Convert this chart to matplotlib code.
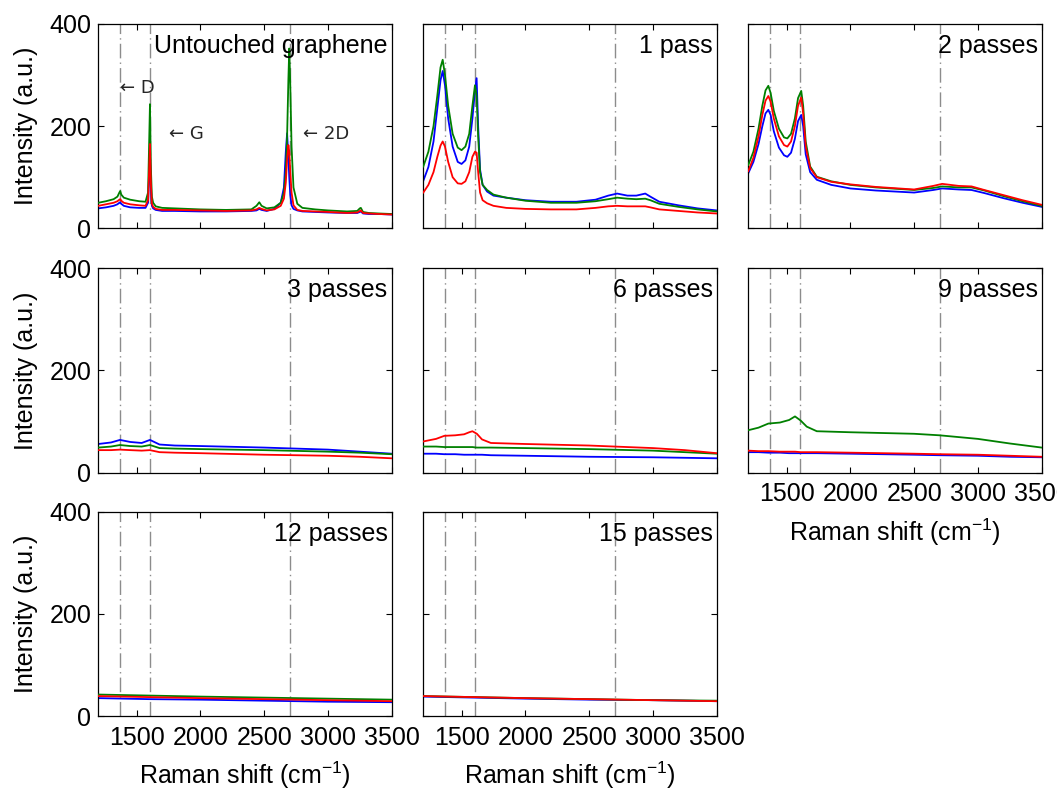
import matplotlib
matplotlib.use("Agg")
import matplotlib.pyplot as plt

plt.rcParams["font.family"] = ["Liberation Sans", "DejaVu Sans"]
plt.rcParams["mathtext.default"] = "regular"

# ---- Raman spectra (intensity in a.u. vs Raman shift in cm^-1) ----
# Untouched graphene
x_untouched = [1200, 1260, 1320, 1350, 1365, 1372, 1380, 1400, 1450, 1520, 1570, 1590, 1598, 1605,
               1612, 1620, 1630, 1650, 1700, 1800, 2000, 2200, 2400, 2440, 2462, 2480, 2520, 2580,
               2630, 2655, 2670, 2680, 2690, 2697, 2705, 2715, 2730, 2760, 2800, 2900, 3000, 3150,
               3230, 3250, 3258, 3275, 3320, 3400, 3500]
blue_untouched = [39, 41, 44, 47, 50, 51, 48, 44, 41, 40, 40, 50, 100, 150,
                  80, 44, 39, 36, 34, 34, 33, 33, 34, 35, 38, 36, 34, 38,
                  50, 80, 150, 186, 140, 100, 65, 45, 38, 35, 33, 32, 31, 30,
                  30, 32, 33, 29, 28, 28, 27]
green_untouched = [50, 53, 57, 62, 70, 73, 66, 60, 56, 53, 52, 70, 160, 243,
                   120, 62, 50, 43, 40, 39, 37, 36, 37, 44, 51, 44, 39, 41,
                   50, 70, 110, 180, 290, 352, 280, 160, 80, 48, 40, 37, 35, 33,
                   34, 39, 40, 32, 30, 29, 28]
red_untouched = [44, 47, 50, 53, 56, 57, 54, 50, 47, 45, 44, 55, 110, 165,
                 90, 48, 42, 38, 36, 36, 35, 34, 35, 37, 40, 38, 35, 37,
                 44, 58, 90, 135, 163, 150, 110, 70, 45, 36, 34, 33, 32, 30,
                 31, 34, 35, 30, 29, 28, 27]

# 1 pass
x_pass1 = [1200, 1240, 1280, 1310, 1335, 1352, 1370, 1395, 1430, 1470, 1500, 1530, 1560, 1585,
           1605, 1618, 1630, 1645, 1665, 1700, 1750, 1850, 2000, 2200, 2400, 2550, 2650, 2720,
           2800, 2870, 2940, 2980, 3050, 3200, 3350, 3500]
blue_pass1 = [93, 120, 170, 235, 290, 308, 280, 215, 160, 130, 126, 133, 160, 215,
              270, 294, 200, 115, 85, 72, 64, 60, 55, 52, 52, 56, 64, 68,
              64, 64, 68, 62, 52, 45, 39, 35]
green_pass1 = [121, 150, 200, 260, 315, 330, 300, 240, 185, 158, 153, 160, 185, 240,
               280, 260, 180, 110, 85, 75, 66, 60, 54, 50, 50, 53, 57, 60,
               58, 57, 58, 55, 48, 42, 37, 33]
red_pass1 = [70, 85, 110, 140, 162, 170, 160, 130, 100, 88, 87, 92, 110, 140,
             150, 148, 110, 70, 55, 49, 44, 40, 38, 37, 37, 40, 43, 44,
             43, 43, 43, 41, 37, 34, 31, 29]

# 2 passes
x_pass2 = [1200, 1240, 1280, 1310, 1335, 1357, 1375, 1400, 1440, 1480, 1506, 1535, 1565, 1590,
           1615, 1630, 1650, 1685, 1737, 1850, 2000, 2200, 2500, 2650, 2720, 2850, 2950, 3050,
           3200, 3350, 3500]
blue_pass2 = [108, 130, 165, 200, 225, 232, 222, 190, 158, 143, 140, 148, 175, 210,
              222, 200, 145, 110, 95, 85, 78, 74, 70, 75, 78, 76, 75, 69,
              59, 50, 42]
green_pass2 = [124, 150, 195, 240, 270, 279, 265, 230, 195, 178, 176, 185, 215, 255,
               269, 240, 170, 121, 101, 92, 85, 80, 75, 79, 82, 80, 80, 74,
               63, 53, 44]
red_pass2 = [112, 138, 180, 222, 250, 259, 248, 215, 180, 163, 160, 170, 200, 240,
             256, 225, 160, 118, 100, 91, 86, 81, 76, 83, 87, 83, 82, 75,
             65, 55, 46]

# 3 passes
x_pass3 = [1200, 1300, 1370, 1450, 1540, 1605, 1680, 1800, 2000, 2500, 3000, 3250, 3500]
blue_pass3 = [56, 59, 64, 60, 58, 64, 55, 53, 52, 49, 45, 41, 37]
green_pass3 = [49, 51, 54, 52, 51, 54, 48, 47, 46, 44, 41, 39, 36]
red_pass3 = [44, 44, 45, 44, 43, 44, 40, 39, 38, 35, 33, 31, 28]

# 6 passes
x_pass6 = [1200, 1300, 1365, 1450, 1520, 1560, 1585, 1620, 1660, 1730, 2000, 2500, 3000, 3250, 3500]
blue_pass6 = [37, 37, 36, 36, 35, 35, 35, 35, 35, 34, 33, 31, 30, 29, 28]
green_pass6 = [51, 51, 50, 50, 50, 50, 50, 49, 49, 49, 48, 46, 43, 40, 37]
red_pass6 = [61, 66, 72, 73, 75, 79, 81, 76, 65, 58, 56, 53, 48, 44, 38]

# 9 passes
x_pass9 = [1200, 1280, 1357, 1448, 1520, 1566, 1610, 1658, 1737, 2000, 2500, 2700, 3000, 3250, 3500]
blue_pass9 = [40, 40, 39, 39, 38, 38, 38, 38, 38, 37, 35, 34, 33, 31, 30]
green_pass9 = [83, 88, 96, 98, 103, 110, 102, 90, 81, 79, 76, 73, 66, 57, 49]
red_pass9 = [43, 42, 42, 41, 41, 41, 40, 40, 40, 39, 37, 36, 35, 33, 31]

# 12 passes
x_pass12 = [1200, 1600, 2000, 2500, 3000, 3500]
blue_pass12 = [35, 33, 32, 30, 28, 27]
green_pass12 = [42, 40, 38, 36, 34, 32]
red_pass12 = [39, 37, 35, 33, 31, 29]

# 15 passes
x_pass15 = [1200, 1600, 2000, 2500, 3000, 3500]
blue_pass15 = [38, 36, 34, 32, 31, 29]
green_pass15 = [39, 37, 35, 33, 31, 30]
red_pass15 = [39, 37, 35, 33, 31, 29]

panel_titles = ["Untouched graphene", "1 pass", "2 passes", "3 passes", "6 passes",
                "9 passes", "12 passes", "15 passes"]
band_positions = [1370, 1605, 2700]  # D, G, 2D
band_labels = ["\u2190 D", "\u2190 G", "\u2190 2D"]
band_label_pos = [(1370, 265), (1755, 175), (2803, 175)]
x_ticks = [1500, 2000, 2500, 3000, 3500]
y_ticks = [0, 200, 400]

spectra = [
    (x_untouched, blue_untouched, green_untouched, red_untouched),
    (x_pass1, blue_pass1, green_pass1, red_pass1),
    (x_pass2, blue_pass2, green_pass2, red_pass2),
    (x_pass3, blue_pass3, green_pass3, red_pass3),
    (x_pass6, blue_pass6, green_pass6, red_pass6),
    (x_pass9, blue_pass9, green_pass9, red_pass9),
    (x_pass12, blue_pass12, green_pass12, red_pass12),
    (x_pass15, blue_pass15, green_pass15, red_pass15),
]

W, H = 1057, 791
fig = plt.figure(figsize=(W / 100, H / 100), dpi=100)

col_left = [98.3, 423.3, 748.3]
col_width = 293.4
row_top = [24.0, 268.3, 511.7]
row_height = 204.3

FS = 18
label_text = "Raman shift (cm$^{-1}$)"
xlabel_panels = {5, 6, 7}
xticklabel_panels = {5, 6, 7}

for i, (title, (xs, yb, yg, yr)) in enumerate(zip(panel_titles, spectra)):
    r, c = divmod(i, 3)
    left = col_left[c] / W
    bottom = 1 - (row_top[r] + row_height) / H
    ax = fig.add_axes([left, bottom, col_width / W, row_height / H])

    for bx in band_positions:
        ax.axvline(bx, color="0.55", lw=1.0, linestyle=(0, (10.5, 3, 1, 3)), zorder=1)

    ax.plot(xs, yb, color=(0, 0, 1), lw=1.3, zorder=2)
    ax.plot(xs, yg, color=(0, 0.5, 0), lw=1.3, zorder=3)
    ax.plot(xs, yr, color=(1, 0, 0), lw=1.3, zorder=4)

    ax.set_xlim(1200, 3500)
    ax.set_ylim(0, 400)
    ax.set_xticks(x_ticks)
    ax.set_yticks(y_ticks)
    ax.tick_params(direction="in", top=True, right=True, length=4, width=0.8,
                   labelsize=FS, colors="black")
    ax.tick_params(axis="x", pad=7)
    ax.tick_params(axis="y", pad=5)
    for s in ax.spines.values():
        s.set_linewidth(0.9)

    if c != 0:
        ax.set_yticklabels([])
    else:
        ax.set_ylabel("Intensity (a.u.)", fontsize=FS)
        ax.yaxis.set_label_coords(-0.205, 0.5)
    if i not in xticklabel_panels:
        ax.set_xticklabels([])
    if i in xlabel_panels:
        ax.set_xlabel(label_text, fontsize=FS)
        ax.xaxis.set_label_coords(0.5, -0.215)

    ax.text(0.986, 0.858, title, transform=ax.transAxes, ha="right", va="baseline",
            fontsize=FS)

    if i == 0:
        for txt, (tx, ty) in zip(band_labels, band_label_pos):
            ax.text(tx, ty, txt, fontsize=13, ha="left", va="baseline", color="0.15",
                    family=["DejaVu Sans"])

fig.savefig("out.png", dpi=100)
